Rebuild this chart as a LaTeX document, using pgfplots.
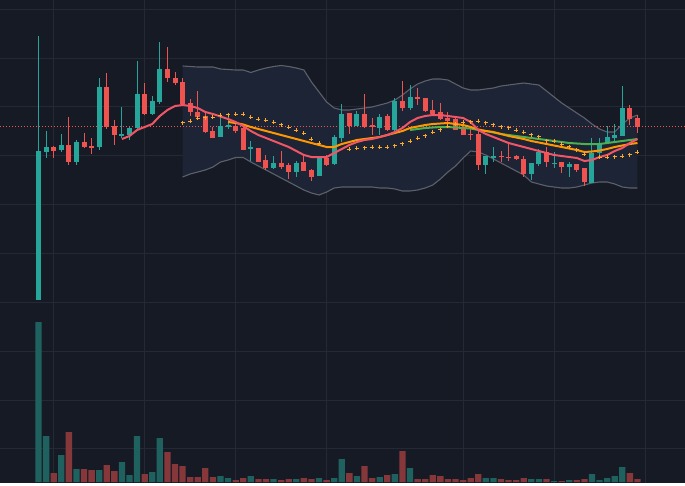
\documentclass[border=0pt]{standalone}
\usepackage{pgfplots}
\pgfplotsset{compat=1.18}
\usepackage{pgfplotstable}

\definecolor{bg}{HTML}{161A25}
\definecolor{gridc}{HTML}{252935}
\definecolor{upc}{HTML}{26A69A}
\definecolor{dnc}{HTML}{EF5350}
\definecolor{vup}{HTML}{1E615E}
\definecolor{vdn}{HTML}{85373A}
\definecolor{bbfill}{HTML}{1C2435}
\definecolor{bbline}{HTML}{5D6069}
\definecolor{emaA}{HTML}{F25565}
\definecolor{emaB}{HTML}{FF9800}
\definecolor{emaC}{HTML}{4CAF50}
\definecolor{sarc}{HTML}{FFA726}

% candles: i open high low close (pixel rows, smaller = higher price)
\pgfplotstableread{
i o h l c
1 300 36 300 151
2 152 131 158 147
3 147 146 158 151
4 150 134 152 145
5 145 117 165 162
6 162 140 165 142
7 142 133 148 147
8 146 138 154 147
9 147 78 150 87
10 87 73 129 127
11 126 120 145 135
12 136 107 138 134
13 135 127 140 128
14 128 61 130 94
15 94 83 115 114
16 114 96 115 101
17 102 42 104 69
18 69 47 82 78
19 78 72 85 83
20 82 78 106 104
21 103 99 116 112
22 112 91 120 117
23 116 112 133 132
24 131 127 138 138
25 137 116 137 126
26 127 115 129 125
27 126 122 133 131
28 128 126 150 150
29 149 141 161 147
30 148 148 162 162
31 160 155 170 168
32 168 156 169 163
33 163 151 169 167
34 165 163 179 172
35 172 161 177 163
36 162 156 171 171
37 170 169 181 177
38 176 158 176 158
39 158 155 166 165
40 164 135 165 137
41 138 104 142 114
42 113 113 134 126
43 126 111 126 114
44 114 94 128 127
45 125 118 135 126.5
46 128 114 135 117
47 116 114 131 130
48 130 98 131 101
49 101 81 111 108
50 108 85 110 97
51 97 88 105 98
52 98 98 112 111
53 110 100 115 114
54 112 103 120 119
55 118 112 125 121
56 119 118 130 130
57 128 120 135 135
58 133.5 129 140 134.5
59 134 129 170 165
60 165 156 174 156
61 157 147 162 156
62 155.5 151 162 156.5
63 156.5 142 161 157.5
64 156 155 160 159
65 159 156 177 174
66 174 163 180 163
67 164 149 166 152
68 152 147 167 162
69 163.5 152 168 162.5
70 162 162 173 167
71 167 162 177 164
72 164 164 172 170
73 168 168 186 182
74 183 138 183 153
75 153 138 158 143
76 143 126 144 137
77 138 124 143 135
78 136 86 136 108
79 108 105 125 119
80 118 115 133 127
}\candles

% volume: i height direction(1 up, 0 down)
\pgfplotstableread{
i v d
1 160 1
2 46 1
3 9 0
4 27 1
5 50 0
6 13 1
7 13 0
8 12 0
9 12 1
10 17 0
11 11 0
12 20 1
13 7 1
14 46 1
15 8 0
16 10 1
17 44 1
18 30 0
19 18 0
20 16 0
21 5 0
22 5 0
23 14 0
24 5 0
25 6 1
26 4 1
27 2 0
28 4 0
29 6 1
30 3 0
31 3 0
32 3 1
33 2 0
34 3 0
35 3 1
36 4 0
37 3 0
38 4 1
39 2 0
40 4 1
41 23 1
42 9 0
43 6 1
44 16 0
45 4 0
46 5 1
47 7 0
48 8 1
49 31 0
50 14 1
51 3 0
52 3 0
53 7 0
54 6 0
55 3 0
56 3 0
57 2 0
58 4 0
59 8 0
60 4 1
61 4 1
62 3 0
63 2 0
64 2 0
65 4 0
66 3 1
67 3 1
68 3 0
69 1 1
70 1 0
71 2 1
72 2 0
73 3 0
74 8 1
75 2 1
76 4 1
77 6 1
78 15 1
79 9 0
80 3 0
}\vol

% Bollinger bands
\pgfplotstableread{
i u l
20 66 177
21 66.5 174
22 67 172
23 67 170
24 67 167
25 69 162
26 69.5 160
27 70 157.5
28 70 157.5
29 72.5 162
30 70 166
31 68 170
32 66.5 174
33 65.5 178
34 66.5 182
35 68 186
36 70 190
37 82 193
38 92 195
39 102 192
40 108 188
41 110 187
42 110 187
43 109 187
44 108 187
45 107 187
46 105 188
47 103 188
48 100 189
49 95 191
50 89 191
51 84 190
52 81 188
53 79 185
54 79 179
55 80 172
56 84 166
57 88 158
58 90 151
59 90 152
60 89 155
61 88 159
62 86 163
63 85 167
64 84 171
65 83 175
66 84 182
67 85 184
68 91 186
69 97 187
70 103 188
71 108 188
72 113 187
73 118 185
74 124 183
75 129 182
76 132 182
77 132 184
78 124 187
79 118 188
80 115 188
}\bb

% band outline as one closed polygon: upper edge left to right, lower edge right to left
\pgfplotstableread{
i y
20 66
21 66.5
22 67
23 67
24 67
25 69
26 69.5
27 70
28 70
29 72.5
30 70
31 68
32 66.5
33 65.5
34 66.5
35 68
36 70
37 82
38 92
39 102
40 108
41 110
42 110
43 109
44 108
45 107
46 105
47 103
48 100
49 95
50 89
51 84
52 81
53 79
54 79
55 80
56 84
57 88
58 90
59 90
60 89
61 88
62 86
63 85
64 84
65 83
66 84
67 85
68 91
69 97
70 103
71 108
72 113
73 118
74 124
75 129
76 132
77 132
78 124
79 118
80 115
80 188
79 188
78 187
77 184
76 182
75 182
74 183
73 185
72 187
71 188
70 188
69 187
68 186
67 184
66 182
65 175
64 171
63 167
62 163
61 159
60 155
59 152
58 151
57 158
56 166
55 172
54 179
53 185
52 188
51 190
50 191
49 191
48 189
47 188
46 188
45 187
44 187
43 187
42 187
41 187
40 188
39 192
38 195
37 193
36 190
35 186
34 182
33 178
32 174
31 170
30 166
29 162
28 157.5
27 157.5
26 160
25 162
24 167
23 170
22 172
21 174
20 177
}\bbpoly

\pgfplotstableread{
i y
12 139
13 136
14 130
15 127
16 124
17 116
18 110
19 106
20 105
21 106
22 108
23 112
24 114
25 116.5
26 119
27 122
28 126
29 131
30 135
31 138
32 141
33 144
34 147
35 151
36 155
37 157
38 157
39 157
40 153
41 149
42 145
43 142
44 140
45 139
46 137
47 135
48 132
49 128
50 122
51 118
52 116
53 115
54 115
55 116
56 117
57 118
58 122
59 130
60 134
61 137
62 140
63 143
64 145
65 147
66 149
67 151
68 153
69 155
70 156
71 157
72 158
73 161
74 160
75 157
76 155
77 151
78 148
79 143
80 139
}\emaa

\pgfplotstableread{
i y
26 122
27 123
28 124.5
29 127
30 129
31 131
32 133
33 135
34 137
35 139
36 141
37 143
38 145
39 147
40 147
41 144
42 142
43 140
44 139
45 138
46 137
47 135
48 133
49 131
50 128
51 126.5
52 125
53 124
54 123.5
55 123
56 124
57 125
58 127
59 129.5
60 131
61 132
62 134
63 136
64 137.5
65 139
66 141
67 142.5
68 144
69 145.5
70 147
71 148.5
72 150
73 152
74 151.5
75 150.5
76 149
77 147
78 145.5
79 144
80 143
}\emab

\pgfplotstableread{
i y
50 130
51 129
52 128
53 127.5
54 127
55 127
56 127.5
57 128
58 128.5
59 130
60 131
61 132.5
62 134
63 135
64 136
65 137
66 138
67 139
68 140
69 141
70 142
71 143
72 143.5
73 144
74 144
75 144
76 143
77 142
78 141
79 140
80 139
}\emac

\pgfplotstableread{
i y
20 122.5
21 121
22 118
23 117.5
24 117
25 115
26 114.5
27 114
28 114
29 117
30 119
31 120
32 122
33 124.5
34 127
35 130
36 133
37 139
38 143
42 149
43 148
44 147.5
45 147
46 147
47 147
48 145.5
49 143.5
50 141
51 138
52 135.5
53 132
54 129.5
55 126
56 124
57 122
58 121.5
59 121.3
60 122.5
61 124.5
62 126.5
63 127.5
64 130
65 132
66 134.5
67 136.7
68 140.5
69 141.3
70 144
71 146.7
72 149.6
73 154
75 157.3
76 157.2
77 156.8
78 156
79 154.5
80 152
}\sar

\pgfplotsset{common/.style={
  scale only axis, width=685pt, height=485pt,
  xmin=-4.084, xmax=86.27,
  axis line style={draw=none}, tick style={draw=none},
  xticklabels={}, yticklabels={}},
  candle/.style n args={2}{draw=none, no markers, forget plot,
    error bars/.cd, y dir=both, y explicit, error mark=none,
    error bar style={draw=#1, line width=#2}}}

\begin{document}
\begin{tikzpicture}
% volume panel, background and grid
\begin{axis}[common, name=vol, at={(0,0)}, anchor=south west,
  ymin=-3, ymax=482,
  axis background/.style={fill=bg},
  grid=major, grid style={draw=gridc, line width=1pt},
  xtick={3,15,27,39,57,69,81},
  ytick={33.05,81.9,130.75,179.6,228.45,277.3,326.15,375,423.85,472.7}]
\addplot[ybar, bar width=0.83, bar shift=0pt, fill=vup, draw=none]
  table[x=i, y expr={\thisrow{d}>0.5 ? \thisrow{v} : nan}] {\vol};
\addplot[ybar, bar width=0.83, bar shift=0pt, fill=vdn, draw=none]
  table[x=i, y expr={\thisrow{d}<0.5 ? \thisrow{v} : nan}] {\vol};
\end{axis}

% price panel
\begin{axis}[common, at={(0,0)}, anchor=south west,
  ymin=0, ymax=485, y dir=reverse, xtick=\empty, ytick=\empty]
\addplot[fill=bbfill, draw=none, forget plot] table[x=i, y=y] {\bbpoly} -- cycle;
\addplot[bbline, line width=1.1pt, forget plot] table[x=i, y=u] {\bb};
\addplot[bbline, line width=1.1pt, forget plot] table[x=i, y=l] {\bb};

% last price line
\addplot[dnc, line width=0.9pt, dash pattern=on 1pt off 2pt, forget plot]
  coordinates {(-4.084,126.3) (86.27,126.3)};

% parabolic SAR
\addplot[only marks, mark=+, mark size=2pt, sarc, line width=1pt, forget plot]
  table[x=i, y=y] {\sar};

% candles: wicks
\addplot[candle={upc}{1pt}]
  table[x=i, y expr={\thisrow{c}<\thisrow{o} ? (\thisrow{h}+\thisrow{l})/2 : nan},
        y error expr={(\thisrow{l}-\thisrow{h})/2}] {\candles};
\addplot[candle={dnc}{1pt}]
  table[x=i, y expr={\thisrow{c}>\thisrow{o} ? (\thisrow{h}+\thisrow{l})/2 : nan},
        y error expr={(\thisrow{l}-\thisrow{h})/2}] {\candles};
% candles: bodies
\addplot[candle={upc}{5pt}]
  table[x=i, y expr={\thisrow{c}<\thisrow{o} ? (\thisrow{o}+\thisrow{c})/2 : nan},
        y error expr={abs(\thisrow{o}-\thisrow{c})/2}] {\candles};
\addplot[candle={dnc}{5pt}]
  table[x=i, y expr={\thisrow{c}>\thisrow{o} ? (\thisrow{o}+\thisrow{c})/2 : nan},
        y error expr={abs(\thisrow{o}-\thisrow{c})/2}] {\candles};

% moving averages
\addplot[emaC, line width=2pt, forget plot] table[x=i, y=y] {\emac};
\addplot[emaB, line width=2pt, forget plot] table[x=i, y=y] {\emab};
\addplot[emaA, line width=2pt, forget plot] table[x=i, y=y] {\emaa};

% bottom separator
\addplot[white, line width=2pt, forget plot]
  coordinates {(-4.084,483.5) (86.27,483.5)};
\end{axis}
\pgfresetboundingbox
\useasboundingbox (vol.south west) rectangle (vol.north east);
\end{tikzpicture}
\end{document}
